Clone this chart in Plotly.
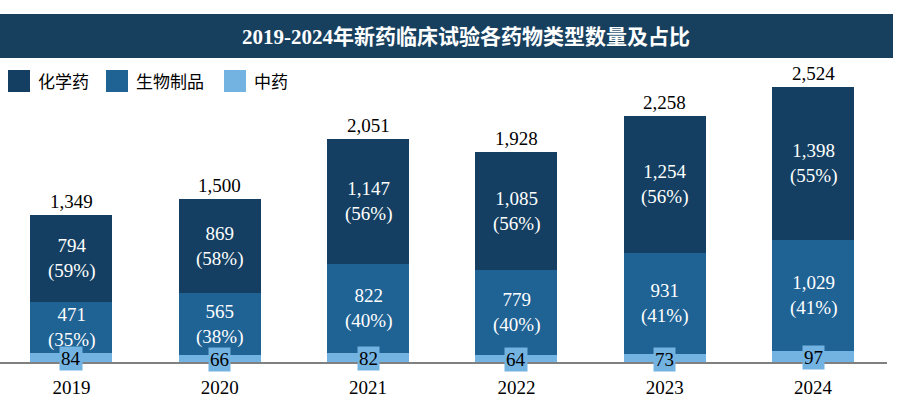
import plotly.graph_objects as go

years = ["2019", "2020", "2021", "2022", "2023", "2024"]
chem = [794, 869, 1147, 1085, 1254, 1398]
bio = [471, 565, 822, 779, 931, 1029]
tcm = [84, 66, 82, 64, 73, 97]
chem_pct = ["59%", "58%", "56%", "56%", "56%", "55%"]
bio_pct = ["35%", "38%", "40%", "40%", "41%", "41%"]
totals = [1349, 1500, 2051, 1928, 2258, 2524]

series_names = ["化学药", "生物制品", "中药"]
C_CHEM = "#143f62"
C_BIO = "#1f6294"
C_TCM = "#72b3e2"
TITLE_BG = "#17405f"

NUM_FONT = "Liberation Serif, Times New Roman, serif"
CJK_FONT = "Noto Sans CJK SC, sans-serif"

W, H = 897, 397
ML, MR, MT, MB = 0, 10, 62, 35
PW, PH = W - ML - MR, H - MT - MB

fig = go.Figure()
bw = 0.553
fig.add_bar(x=years, y=tcm, marker=dict(color=C_TCM, line=dict(width=0)), width=bw, name=series_names[2])
fig.add_bar(x=years, y=bio, marker=dict(color=C_BIO, line=dict(width=0)), width=bw, name=series_names[1])
fig.add_bar(x=years, y=chem, marker=dict(color=C_CHEM, line=dict(width=0)), width=bw, name=series_names[0])

ann = []
for i, yr in enumerate(years):
    ann.append(dict(x=i, y=tcm[i] / 2, xref="x", yref="y", text=str(tcm[i]),
                    showarrow=False, font=dict(family=NUM_FONT, size=19, color="black"),
                    bgcolor=C_TCM, borderpad=1, yshift=-1))
    ann.append(dict(x=i, y=tcm[i] + bio[i] / 2, xref="x", yref="y",
                    text=f"{bio[i]:,}<br>({bio_pct[i]})", showarrow=False,
                    font=dict(family=NUM_FONT, size=19, color="white")))
    ann.append(dict(x=i, y=tcm[i] + bio[i] + chem[i] / 2, xref="x", yref="y",
                    text=f"{chem[i]:,}<br>({chem_pct[i]})", showarrow=False,
                    font=dict(family=NUM_FONT, size=19, color="white")))
    ann.append(dict(x=i, y=totals[i], xref="x", yref="y", text=f"{totals[i]:,}",
                    showarrow=False, yanchor="bottom", yshift=1,
                    font=dict(family=NUM_FONT, size=19, color="black")))

def px_x(p):
    return (p - ML) / PW

def px_y(p):
    return (H - MB - p) / PH

shapes = []
shapes.append(dict(type="rect", xref="paper", yref="paper", x0=px_x(0), x1=px_x(893),
                   y0=px_y(58), y1=px_y(14), fillcolor=TITLE_BG, line=dict(width=0), layer="below"))
ann.append(dict(xref="paper", yref="paper", x=px_x(466), y=px_y(36), showarrow=False,
                yshift=13,
                text="<b>2019-2024年新药临床试验各药物类型数量及占比</b>",
                font=dict(family="Liberation Serif, Noto Sans CJK SC, serif", size=21, color="white")))

legend_items = [(series_names[0], C_CHEM, 8), (series_names[1], C_BIO, 106), (series_names[2], C_TCM, 224)]
for name, col, x0 in legend_items:
    shapes.append(dict(type="rect", xref="paper", yref="paper", x0=px_x(x0), x1=px_x(x0 + 22),
                       y0=px_y(92), y1=px_y(70), fillcolor=col, line=dict(width=0)))
    ann.append(dict(xref="paper", yref="paper", x=px_x(x0 + 28), y=px_y(81), xanchor="left",
                    showarrow=False, text=name, yshift=15,
                    font=dict(family=CJK_FONT, size=17, color="black")))

fig.update_layout(
    barmode="stack",
    width=W, height=H,
    margin=dict(l=ML, r=MR, t=MT, b=MB, pad=0),
    plot_bgcolor="white", paper_bgcolor="white",
    showlegend=False,
    annotations=ann,
    shapes=shapes,
    xaxis=dict(type="category", range=[-0.482, 5.499], showline=True, linecolor="#808080",
               linewidth=2, ticks="", showgrid=False, zeroline=False, ticklabelstandoff=7,
               tickfont=dict(family=NUM_FONT, size=19, color="black")),
    yaxis=dict(range=[0, 2758], visible=False, showgrid=False, zeroline=False),
)

fig.write_html("out.html", config={"displayModeBar": False},
               post_script="document.body.style.margin='0px';document.body.style.overflow='hidden';")
